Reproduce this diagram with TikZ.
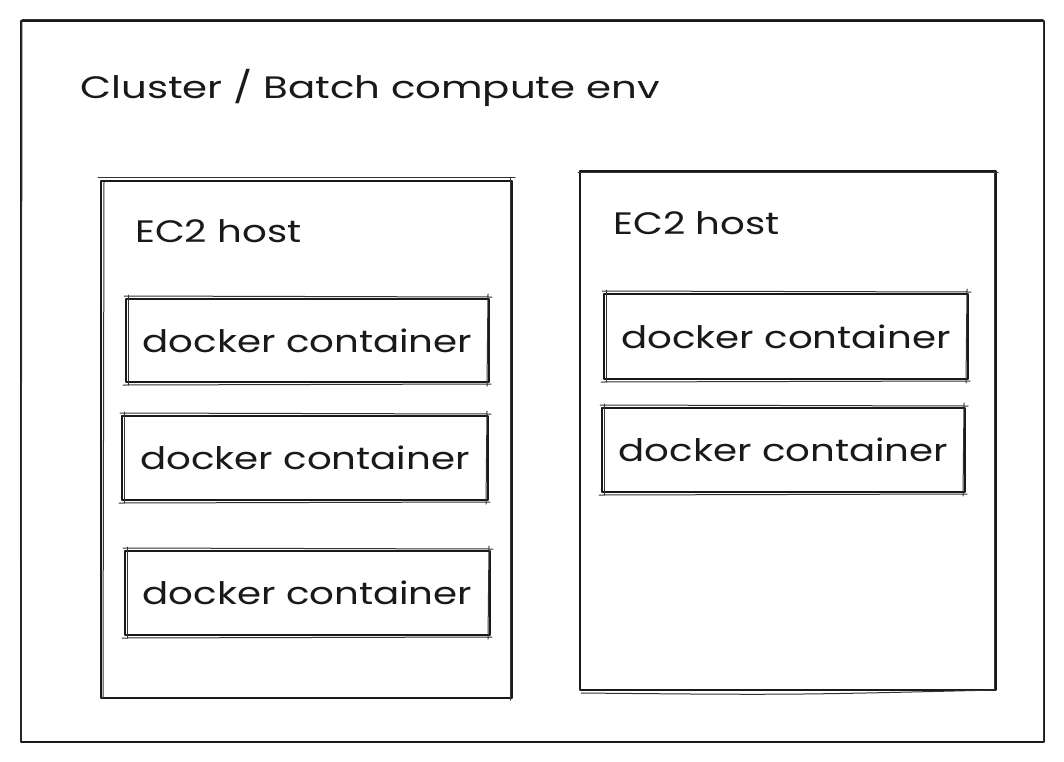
\documentclass[tikz,border=0pt]{standalone}
\usepackage{fontspec}
\setmainfont[FakeStretch=1.25]{Poppins}
\tikzset{
  sketch/.style={draw=black!90, line width=2pt, line join=round, line cap=round},
  sketchb/.style={draw=black!80, line width=1pt, line cap=round},
  box/.style={sketch, rectangle, inner sep=0pt, text depth=0pt, font=\fontsize{31}{35}\selectfont, text=black!90},
  lbl/.style={font=\fontsize{31}{35}\selectfont, text=black!90, inner sep=0pt, anchor=base west}
}
\begin{document}
\begin{tikzpicture}[x=1pt,y=-1pt]
\useasboundingbox (0,0) rectangle (1064,761);
% outer cluster
\node[box, minimum width=1023pt, minimum height=721pt, anchor=north west] (cl) at (20,20) {};
\draw[sketchb] ([shift={(2,-1)}]cl.north west) -- ([shift={(-2,-1)}]cl.north east);
\draw[sketchb] ([shift={(2,1)}]cl.north west) -- ([shift={(1,-2)}]cl.south west);
\draw[sketchb] ([shift={(-2,1)}]cl.north east) -- ([shift={(-2,-1)}]cl.south east);
\node[lbl] (title) at (80,98) {\addfontfeature{FakeStretch=1.3}Cluster / Batch compute env};

% left host
\node[box, minimum width=411pt, minimum height=517pt, anchor=north west] (h1) at (100,180) {};
\draw[sketchb] ([shift={(-2,-3)}]h1.north west) -- ([shift={(2,-3)}]h1.north east);
\draw[sketchb] ([shift={(4,2)}]h1.north west) -- ([shift={(3,-1)}]h1.south west);
\draw[sketchb] ([shift={(-3,-2)}]h1.north east) -- ([shift={(-3,1)}]h1.south east);
\node[lbl] (t1) at (135,242) {EC2 host};

% right host
\node[box, minimum width=416pt, minimum height=519pt, anchor=north west] (h2) at (579,170) {};
\draw[sketchb] ([shift={(-1,2)}]h2.north west) -- ([shift={(1,2)}]h2.north east);
\draw[sketchb] ([shift={(2,2)}]h2.south west) .. controls ([shift={(0,4)}]h2.south) .. ([shift={(-2,-1)}]h2.south east);
\draw[sketchb] ([shift={(-3,1)}]h2.north east) -- ([shift={(-3,-1)}]h2.south east);
\node[lbl] (t2) at (613,234) {EC2 host};

% containers left
\node[box, minimum width=363pt, minimum height=83pt, anchor=north west] (c1) at (125,298) {docker container};
\node[box, minimum width=366pt, minimum height=84pt, anchor=north west] (c2) at (121,415) {docker container};
\node[box, minimum width=365pt, minimum height=84pt, anchor=north west] (c3) at (124,550) {docker container};
% containers right
\node[box, minimum width=364pt, minimum height=85pt, anchor=north west] (c4) at (603,293) {docker container};
\node[box, minimum width=363pt, minimum height=84pt, anchor=north west] (c5) at (601,407) {docker container};

% sketch doubles on containers
\foreach \c in {c1,c2,c3,c4,c5}{
  \draw[sketchb] ([shift={(-1,-2)}]\c.north west) -- ([shift={(2,-1)}]\c.north east);
  \draw[sketchb] ([shift={(-2,2)}]\c.south west) -- ([shift={(1,1)}]\c.south east);
  \draw[sketchb] ([shift={(3,-3)}]\c.north west) -- ([shift={(3,2)}]\c.south west);
  \draw[sketchb] ([shift={(-2,-4)}]\c.north east) -- ([shift={(-3,3)}]\c.south east);
}
\end{tikzpicture}
\end{document}
